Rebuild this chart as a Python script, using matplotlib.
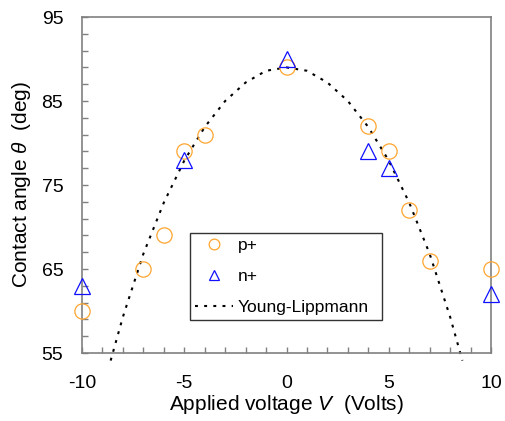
import matplotlib
matplotlib.use("Agg")
import matplotlib.pyplot as plt
from matplotlib.ticker import MultipleLocator

plt.rcParams['font.family'] = ['Liberation Sans', 'DejaVu Sans']
plt.rcParams['mathtext.fontset'] = 'custom'
plt.rcParams['mathtext.it'] = 'Liberation Sans:italic'
plt.rcParams['mathtext.rm'] = 'Liberation Sans'
plt.rcParams['axes.unicode_minus'] = False

# measured contact angles (deg) vs applied voltage (V)
p_volts = [-10, -7, -6, -5, -4, 0, 4, 5, 6, 7, 10]
p_angle = [60, 65, 69, 79, 81, 89, 82, 79, 72, 66, 65]

n_volts = [-10, -5, 0, 4, 5, 10]
n_angle = [63, 78, 90, 79, 77, 62]

# Young-Lippmann fit curve
yl_volts = [-8.6, -8, -7, -6, -5, -4, -3, -2, -1, 0,
            1, 2, 3, 4, 5, 6, 7, 8, 8.6]
yl_angle = [54.1, 59.3, 66.8, 72.9, 77.9, 81.9, 85.0, 87.2, 88.6, 89.0,
            88.6, 87.2, 85.0, 81.9, 77.9, 72.9, 66.8, 59.3, 54.1]

fig = plt.figure(figsize=(5.05, 4.21), dpi=100)
ax = fig.add_axes([0.1624, 0.1615, 0.8099, 0.7981])

orange = '#FFA530'
blue = '#1010FF'

ax.plot(p_volts, p_angle, 'o', ms=11, mfc='none', mec=orange, mew=0.9,
        label='p+', clip_on=False, zorder=3)
ax.plot(n_volts, n_angle, '^', ms=11, mfc='none', mec=blue, mew=0.9,
        label='n+', clip_on=False, zorder=3)
ax.plot(yl_volts, yl_angle, color='black', lw=1.5, dashes=(1.4, 3),
        label='Young-Lippmann', clip_on=False, zorder=2)

ax.set_xlim(-10, 10)
ax.set_ylim(55, 95)
ax.xaxis.set_major_locator(MultipleLocator(5))
ax.xaxis.set_minor_locator(MultipleLocator(1))
ax.yaxis.set_major_locator(MultipleLocator(10, offset=5))
ax.yaxis.set_minor_locator(MultipleLocator(2, offset=1))

for s in ax.spines.values():
    s.set_color('#808080')
    s.set_linewidth(1.2)

ax.tick_params(which='both', direction='in', length=4.3, width=1,
               color='#808080', top=False, right=False, labelsize=14,
               labelcolor='black')
ax.tick_params(axis='x', which='both', pad=16)
ax.tick_params(axis='y', which='both', pad=13.5)

ax.set_xlabel('Applied voltage $V$  (Volts)', fontsize=15, labelpad=0.5)
ax.set_ylabel(r'Contact angle $\theta$  (deg)', fontsize=15, labelpad=6)

leg = ax.legend(loc='lower left', bbox_to_anchor=(0.264, 0.098, 0.469, 0.29),
                mode='expand', borderaxespad=0, fontsize=12.5,
                markerscale=0.7, fancybox=False, framealpha=1,
                edgecolor='#333333', handlelength=2.15, handletextpad=0.3,
                labelspacing=0.9, borderpad=0.3)
leg.get_frame().set_linewidth(1.0)

fig.savefig('out.png', dpi=100)
